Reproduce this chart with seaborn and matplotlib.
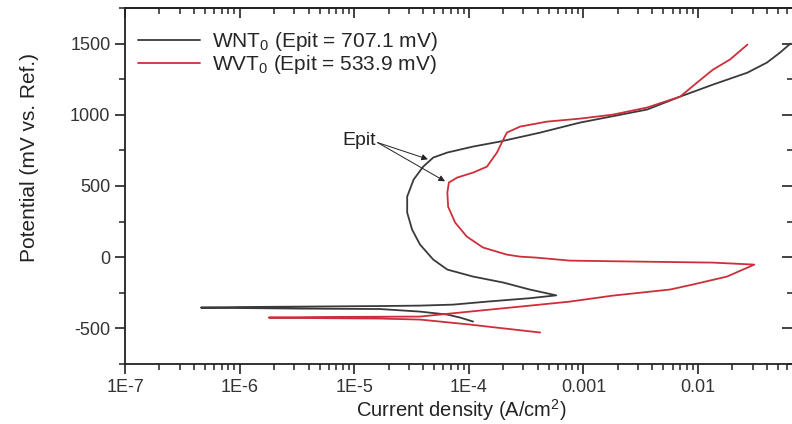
import pandas as pd
import seaborn as sns
import matplotlib
matplotlib.use("Agg")
import matplotlib.pyplot as plt
from matplotlib.ticker import FixedLocator, NullFormatter

# WNT0 polarization curve (current A/cm2, potential mV), in scan order
wnt_current = [1.09e-4, 8.4e-5, 6.5e-5, 3.75e-5, 1.68e-5, 3.4e-6, 1.0e-6, 4.6e-7,
               1.0e-6, 3.4e-6, 1.7e-5, 3.75e-5, 7.3e-5, 1.44e-4, 3.4e-4, 5.8e-4,
               3.4e-4, 2.0e-4, 1.09e-4, 6.5e-5, 4.9e-5, 3.75e-5, 3.2e-5, 2.9e-5,
               2.9e-5, 3.3e-5, 4.0e-5, 4.9e-5, 6.5e-5, 1.09e-4, 1.87e-4, 4.2e-4,
               9.3e-4, 3.6e-3, 7.0e-3, 1.35e-2, 2.7e-2, 4.0e-2, 5.2e-2, 6.4e-2]
wnt_potential = [-452, -424, -403, -382, -364, -361, -357, -354,
                 -350, -347, -343, -340, -333, -312, -288, -268,
                 -227, -178, -136, -87, -17, 89, 194, 313,
                 426, 545, 636, 700, 735, 777, 812, 875,
                 945, 1037, 1128, 1212, 1296, 1367, 1437, 1500]

# WVT0 polarization curve
wvt_current = [4.2e-4, 1.02e-4, 3.75e-5, 1.68e-5, 5.0e-6, 1.8e-6,
               5.0e-6, 1.68e-5, 3.75e-5, 1.02e-4, 2.8e-4, 7.6e-4, 1.8e-3,
               5.7e-3, 9.0e-3, 1.79e-2, 3.1e-2,
               1.35e-2, 3.1e-3, 7.6e-4, 3.9e-4, 2.8e-4, 2.15e-4, 1.33e-4,
               9.6e-5, 7.6e-5, 6.6e-5, 6.5e-5, 6.7e-5, 7.9e-5, 1.09e-4,
               1.44e-4, 1.76e-4, 2.0e-4, 2.15e-4, 2.8e-4, 4.8e-4, 9.3e-4,
               1.8e-3, 3.6e-3, 7.0e-3, 9.8e-3, 1.35e-2, 1.9e-2, 2.7e-2]
wvt_potential = [-529, -473, -438, -431, -428, -424,
                 -420, -418, -417, -382, -347, -312, -270,
                 -227, -192, -136, -52,
                 -38, -31, -24, -3, 4, 18, 68,
                 145, 243, 355, 454, 524, 559, 594,
                 636, 735, 826, 875, 917, 952, 973,
                 1001, 1051, 1128, 1226, 1317, 1388, 1493]

labels = ['WNT$_0$ (Epit = 707.1 mV)', 'WVT$_0$ (Epit = 533.9 mV)']
colors = ['#3a3a3a', '#cc2f3a']
x_ticks = [1e-7, 1e-6, 1e-5, 1e-4, 1e-3, 1e-2]
x_ticklabels = ['1E-7', '1E-6', '1E-5', '1E-4', '0.001', '0.01']
x_minor = [m * 10.0**e for e in range(-7, -1) for m in range(2, 10)]
y_ticks = [-500, 0, 500, 1000, 1500]
y_minor = [-750, -250, 250, 750, 1250, 1750]
epit_points = [(4.4e-5, 688), (6.2e-5, 533)]

curves = {
    labels[0]: pd.DataFrame({'current': wnt_current, 'potential': wnt_potential}),
    labels[1]: pd.DataFrame({'current': wvt_current, 'potential': wvt_potential}),
}

sns.set_style('ticks')
plt.rcParams['font.family'] = ['Liberation Sans', 'DejaVu Sans']
plt.rcParams['mathtext.fontset'] = 'custom'
plt.rcParams['mathtext.rm'] = 'Liberation Sans'
plt.rcParams['mathtext.it'] = 'Liberation Sans:italic'
plt.rcParams['axes.unicode_minus'] = False

fig = plt.figure(figsize=(7.92, 4.24), dpi=100)
# right spine sits just past the image edge, as in the cropped original
ax = fig.add_axes([125/792, 60/424, 672/792, 356/424])

for (lab, d), col in zip(curves.items(), colors):
    sns.lineplot(data=d, x='current', y='potential', sort=False, estimator=None,
                 color=col, lw=1.3, ax=ax, label=lab)

ax.set_xscale('log')
ax.set_xlim(1e-7, 0.0731)
ax.set_ylim(-750, 1750)
ax.xaxis.set_major_locator(FixedLocator(x_ticks))
ax.set_xticklabels(x_ticklabels)
ax.xaxis.set_minor_locator(FixedLocator(x_minor))
ax.xaxis.set_minor_formatter(NullFormatter())
ax.set_yticks(y_ticks)
ax.yaxis.set_minor_locator(FixedLocator(y_minor))

for s in ax.spines.values():
    s.set_linewidth(1.3)
    s.set_color('#222222')
ax.tick_params(which='major', direction='out', length=7, width=1.2,
               labelsize=13, colors='#222222', labelcolor='#333333')
ax.tick_params(which='minor', direction='out', length=4, width=1.1,
               colors='#222222')

# mirrored ticks pointing inward on top and right
top = ax.secondary_xaxis('top')
top.xaxis.set_major_locator(FixedLocator(x_ticks))
top.xaxis.set_minor_locator(FixedLocator(x_minor))
top.xaxis.set_major_formatter(NullFormatter())
top.xaxis.set_minor_formatter(NullFormatter())
top.tick_params(which='major', direction='in', length=7, width=1.2, colors='#222222')
top.tick_params(which='minor', direction='in', length=4, width=1.1, colors='#222222')
top.spines['top'].set_linewidth(1.3)
right = ax.secondary_yaxis('right')
right.yaxis.set_major_locator(FixedLocator(y_ticks))
right.yaxis.set_minor_locator(FixedLocator(y_minor))
right.yaxis.set_major_formatter(NullFormatter())
right.tick_params(which='major', direction='in', length=11, width=1.2, colors='#222222')
right.tick_params(which='minor', direction='in', length=7, width=1.1, colors='#222222')

ax.set_xlabel('Current density (A/cm$^2$)', fontsize=14.5, color='#222222',
              labelpad=1)
ax.set_ylabel('Potential (mV vs. Ref.)', fontsize=15, color='#222222')
ax.yaxis.set_label_coords(-0.128, 0.58)

ax.text(1.55e-5, 818, 'Epit', ha='right', va='center', fontsize=14,
        color='#222222')
for px, py in epit_points:
    ax.annotate('', xy=(px, py), xytext=(1.6e-5, 805),
                arrowprops=dict(arrowstyle='-|>', color='#222222', lw=0.7,
                                mutation_scale=9, shrinkA=0, shrinkB=0))

ax.legend(loc='upper left', bbox_to_anchor=(0.0, 0.972), frameon=False,
          fontsize=15, handlelength=3.0, handletextpad=0.6,
          labelspacing=0.0, borderaxespad=0.2)

fig.savefig('out.png', dpi=100)
